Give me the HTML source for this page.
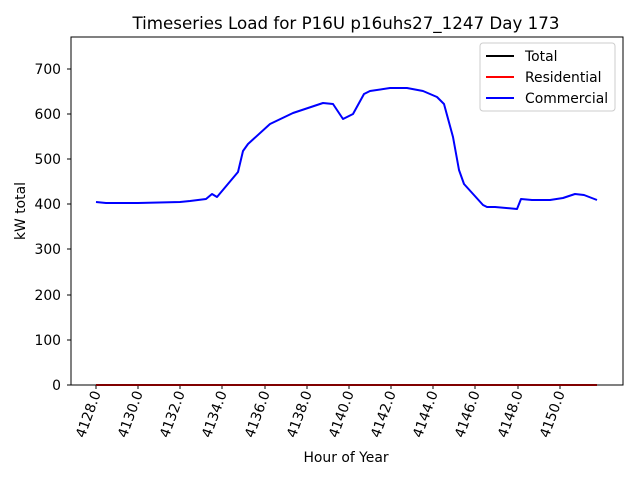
<!DOCTYPE html>
<html><head><meta charset="utf-8"><style>body{margin:0;background:#fff}svg{display:block;font-family:"DejaVu Sans","Liberation Sans",sans-serif}</style></head><body>
<svg width="640" height="480" viewBox="0 0 640 480">
<rect width="640" height="480" fill="#fff"/>
<text x="346" y="29" font-size="16.7" text-anchor="middle">Timeseries Load for P16U p16uhs27_1247  Day 173</text>
<g font-size="13.9" text-anchor="end">
<text x="61" y="390">0</text><text x="61" y="345">100</text><text x="61" y="300">200</text><text x="61" y="254">300</text><text x="61" y="209">400</text><text x="61" y="164">500</text><text x="61" y="119">600</text><text x="61" y="74">700</text>
</g>
<g stroke="#000" stroke-width="1">
<line x1="67" y1="385" x2="71" y2="385"/><line x1="67" y1="340" x2="71" y2="340"/><line x1="67" y1="295" x2="71" y2="295"/><line x1="67" y1="249" x2="71" y2="249"/><line x1="67" y1="204" x2="71" y2="204"/><line x1="67" y1="159" x2="71" y2="159"/><line x1="67" y1="114" x2="71" y2="114"/><line x1="67" y1="69" x2="71" y2="69"/>
<line x1="96" y1="385" x2="96" y2="389"/><line x1="138" y1="385" x2="138" y2="389"/><line x1="180" y1="385" x2="180" y2="389"/><line x1="222" y1="385" x2="222" y2="389"/><line x1="265" y1="385" x2="265" y2="389"/><line x1="307" y1="385" x2="307" y2="389"/><line x1="349" y1="385" x2="349" y2="389"/><line x1="391" y1="385" x2="391" y2="389"/><line x1="433" y1="385" x2="433" y2="389"/><line x1="475" y1="385" x2="475" y2="389"/><line x1="518" y1="385" x2="518" y2="389"/><line x1="560" y1="385" x2="560" y2="389"/>
</g>
<g font-size="13.9" text-anchor="end">
<text transform="translate(101,393) rotate(-70)">4128.0</text>
<text transform="translate(143,393) rotate(-70)">4130.0</text>
<text transform="translate(185,393) rotate(-70)">4132.0</text>
<text transform="translate(227,393) rotate(-70)">4134.0</text>
<text transform="translate(270,393) rotate(-70)">4136.0</text>
<text transform="translate(312,393) rotate(-70)">4138.0</text>
<text transform="translate(354,393) rotate(-70)">4140.0</text>
<text transform="translate(396,393) rotate(-70)">4142.0</text>
<text transform="translate(438,393) rotate(-70)">4144.0</text>
<text transform="translate(480,393) rotate(-70)">4146.0</text>
<text transform="translate(523,393) rotate(-70)">4148.0</text>
<text transform="translate(565,393) rotate(-70)">4150.0</text>
</g>
<text x="346" y="462" font-size="13.9" text-anchor="middle">Hour of Year</text>
<text transform="translate(25,211) rotate(-90)" font-size="13.9" text-anchor="middle">kW total</text>
<line x1="96" y1="385" x2="597" y2="385" stroke="#f00" stroke-width="2"/>
<polyline fill="none" stroke="#00f" stroke-width="2" stroke-linejoin="round" points="96,202 106,203 138,203 180,202 190,201 206,199 212,194 217,197 238,172 243,151 248,144 270,124 293,113 323,103 333,104 343,119 353,114 364,94 370,91 390,88 407,88 423,91 437,97 444,104 453,137 459,170 464,184 483,205 487,207 495,207 517,209 521,199 532,200 550,200 563,198 575,194 584,195 597,200"/>
<rect x="71" y="37" width="552" height="348" fill="none" stroke="#000" stroke-width="1"/>
<rect x="480" y="43" width="135" height="68" rx="3" fill="#fff" fill-opacity="0.8" stroke="#ccc"/>
<g font-size="13.9">
<line x1="486" y1="56" x2="514" y2="56" stroke="#000" stroke-width="2"/><text x="525" y="61">Total</text>
<line x1="486" y1="77" x2="514" y2="77" stroke="#f00" stroke-width="2"/><text x="525" y="82">Residential</text>
<line x1="486" y1="98" x2="514" y2="98" stroke="#00f" stroke-width="2"/><text x="525" y="103">Commercial</text>
</g>
</svg>
</body></html>
